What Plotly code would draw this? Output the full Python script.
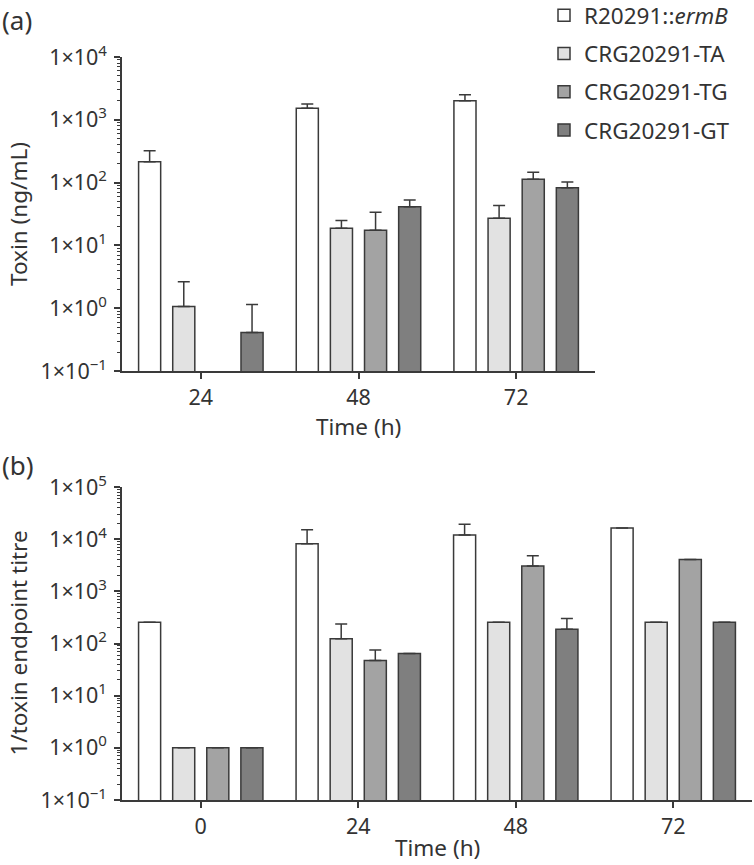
import plotly.graph_objects as go

# ---- data ----
strains = ["R20291::<i>ermB</i>", "CRG20291-TA", "CRG20291-TG", "CRG20291-GT"]
colors = ["#ffffff", "#e2e2e2", "#a3a3a3", "#7f7f7f"]

# Panel (a): toxin (ng/mL)
time_a = ["24", "48", "72"]
toxin_mean = [
    [215, 1525, 2010],
    [1.06, 18.7, 27],
    [None, 17.4, 113],
    [0.41, 41.3, 83],
]
toxin_err = [
    [107, 260, 500],
    [1.58, 6.3, 16],
    [None, 16.3, 33],
    [0.74, 11.5, 19],
]

# Panel (b): 1/toxin endpoint titre
time_b = ["0", "24", "48", "72"]
titre_mean = [
    [256, 8192, 12000, 16384],
    [1, 124, 256, 256],
    [1, 47, 3050, 4096],
    [1, 64, 188, 256],
]
titre_err = [
    [None, 7000, 7400, None],
    [None, 112, None, None],
    [None, 28, 1750, None],
    [None, None, 115, None],
]

ytick_a = [-1, 0, 1, 2, 3, 4]
ytick_b = [-1, 0, 1, 2, 3, 4, 5]

FONT = "Noto Sans"
TXT = "#333333"
LINE = "#3a3a3a"

fig = go.Figure()

for i, name in enumerate(strains):
    fig.add_trace(go.Bar(
        x=time_a, y=toxin_mean[i], name=name, legendgroup=f"g{i}",
        marker=dict(color=colors[i], line=dict(color=LINE, width=1.5)),
        error_y=dict(type="data", symmetric=False, array=toxin_err[i],
                     arrayminus=[0] * len(time_a), color=LINE, thickness=1.5, width=6),
        xaxis="x", yaxis="y", showlegend=True,
    ))
for i, name in enumerate(strains):
    fig.add_trace(go.Bar(
        x=time_b, y=titre_mean[i], name=name, legendgroup=f"g{i}",
        marker=dict(color=colors[i], line=dict(color=LINE, width=1.5)),
        error_y=dict(type="data", symmetric=False, array=titre_err[i],
                     arrayminus=[0] * len(time_b), color=LINE, thickness=1.5, width=6),
        xaxis="x2", yaxis="y2", showlegend=False,
    ))

W, H = 754, 865
def px_x(v):
    return v / W
def px_y(v):
    return 1 - v / H

tickfont = dict(family=FONT, size=21.5, color=TXT)
def yaxis(dom, rng, vals, anchor):
    return dict(
        domain=dom, type="log", range=rng, anchor=anchor, automargin=False,
        tickvals=[10 ** v for v in vals],
        ticktext=[f"1×10<sup>{v if v >= 0 else '−' + str(-v)}</sup>" for v in vals],
        ticks="outside", ticklen=6, tickwidth=1.5, tickcolor=LINE,
        showline=True, linecolor=LINE, linewidth=1.5, showgrid=False, zeroline=False,
        minor=dict(dtick="D1", ticks="outside", ticklen=3, tickwidth=1, tickcolor=LINE, showgrid=False),
        tickfont=tickfont, ticklabelstandoff=3,
    )

def xaxis(dom, n, anchor):
    return dict(
        domain=dom, type="category", range=[-0.5, n - 0.5], anchor=anchor, automargin=False,
        ticks="outside", ticklen=6, tickwidth=1.5, tickcolor=LINE,
        showline=True, linecolor=LINE, linewidth=1.5, showgrid=False, zeroline=False,
        tickfont=tickfont,
    )

def txt(text, x, y, size=22.5, angle=0, xanchor="center", yanchor="middle"):
    return dict(text=text, x=px_x(x), y=px_y(y), xref="paper", yref="paper",
                xanchor=xanchor, yanchor=yanchor, showarrow=False, textangle=angle,
                font=dict(family=FONT, size=size, color=TXT))

fig.update_layout(
    width=W, height=H,
    margin=dict(l=0, r=0, t=0, b=0, autoexpand=False),
    paper_bgcolor="white", plot_bgcolor="white",
    barmode="group", bargap=0.134, bargroupgap=0.353,
    font=dict(family=FONT, color=TXT),
    xaxis=xaxis([px_x(122), px_x(595)], len(time_a), "y"),
    yaxis=yaxis([px_y(371), px_y(57)], [-1, 4], ytick_a, "x"),
    xaxis2=xaxis([px_x(122), px_x(752)], len(time_b), "y2"),
    yaxis2=yaxis([px_y(800), px_y(487)], [-1, 5], ytick_b, "x2"),
    legend=dict(x=px_x(544), y=1 + 6 / H, xanchor="left", yanchor="top",
                font=dict(family=FONT, size=22.5, color=TXT),
                traceorder="grouped", tracegroupgap=6, bgcolor="rgba(0,0,0,0)"),
    annotations=[
        txt("(a)", 0, 0, size=26, xanchor="left", yanchor="top"),
        txt("(b)", 0, 445, size=26, xanchor="left", yanchor="top"),
        txt("Toxin (ng/mL)", 18, 214, angle=-90),
        txt("1/toxin endpoint titre", 18, 643.5, angle=-90),
        txt("Time (h)", 358, 427),
        txt("Time (h)", 437, 865, yanchor="bottom"),
    ],
)

fig.write_html("out.html", config={"displayModeBar": False},
               post_script="document.body.style.margin='0';")
